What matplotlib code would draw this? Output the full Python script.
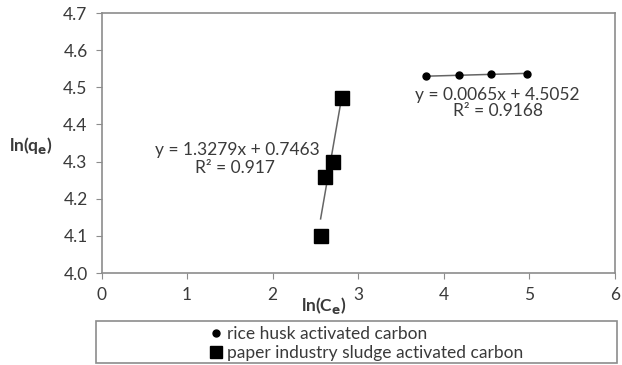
import matplotlib
matplotlib.use("Agg")
import matplotlib.pyplot as plt
from matplotlib.lines import Line2D
from matplotlib.patches import Rectangle
import numpy as np

plt.rcParams['font.family'] = ['Lato', 'DejaVu Sans']
plt.rcParams['mathtext.default'] = 'bf'

# ln(Ce) vs ln(qe) data
rice_x = [3.79, 4.18, 4.55, 4.97]
rice_y = [4.530, 4.533, 4.535, 4.537]
sludge_x = [2.56, 2.61, 2.70, 2.81]
sludge_y = [4.10, 4.258, 4.30, 4.471]

# Linear fit coefficients (slope, intercept) and R^2
rice_fit = (0.0065, 4.5052, 0.9168)
sludge_fit = (1.3279, 0.7463, 0.917)

labels = ["rice husk activated carbon", "paper industry sludge activated carbon"]
xticks = [0, 1, 2, 3, 4, 5, 6]
yticks = [4.0, 4.1, 4.2, 4.3, 4.4, 4.5, 4.6, 4.7]

W, H = 622, 365
fig = plt.figure(figsize=(W / 100, H / 100), dpi=100)
ax = fig.add_axes([101.5 / W, (H - 273) / H, (615 - 101.5) / W, (273 - 13) / H])

frame_col = "#8c8c8c"
text_col = "#3a3a3a"
line_col = "#656565"
fs = 12.5

# trend lines over each series' range
for xs, (m, b, _) in ((rice_x, rice_fit), (sludge_x, sludge_fit)):
    xx = np.array([min(xs), max(xs)])
    ax.plot(xx, m * xx + b, color=line_col, lw=1.1, zorder=2)

ax.plot(rice_x, rice_y, ls="none", marker="o", ms=5, color="black", zorder=3)
ax.plot(sludge_x, sludge_y, ls="none", marker="s", ms=10, color="black", zorder=3)

ax.set_xlim(0, 6)
ax.set_ylim(4.0, 4.7)
ax.set_xticks(xticks)
ax.set_yticks(yticks)
ax.set_xticklabels([str(t) for t in xticks])
ax.set_yticklabels([f"{t:.1f}" for t in yticks])
for s in ax.spines.values():
    s.set_color(frame_col)
    s.set_linewidth(1.2)
ax.tick_params(axis="both", direction="out", color=frame_col, length=4,
               labelsize=fs, labelcolor=text_col)
ax.tick_params(axis="x", pad=6)
ax.tick_params(axis="y", pad=6)

# regression equations
ax.text(1.59, 4.331, f"y = {sludge_fit[0]:.4f}x + {sludge_fit[1]:.4f}",
        ha="center", va="center", fontsize=fs, color=text_col)
ax.text(1.56, 4.282, f"R² = {sludge_fit[2]}", ha="center", va="center",
        fontsize=fs, color=text_col)
ax.text(4.62, 4.479, f"y = {rice_fit[0]:.4f}x + {rice_fit[1]:.4f}",
        ha="center", va="center", fontsize=fs, color=text_col)
ax.text(4.63, 4.436, f"R² = {rice_fit[2]}", ha="center", va="center",
        fontsize=fs, color=text_col)

# axis titles
fig.text(9 / W, 1 - 145 / H, "ln(q$_e$)", ha="left", va="center",
         fontsize=fs, fontweight="bold", color=text_col)
fig.text(324 / W, 1 - 306 / H, "ln(C$_e$)", ha="center", va="center",
         fontsize=fs, fontweight="bold", color=text_col)

# legend box below the plot
fig.patches.append(Rectangle((96 / W, 1 - 363 / H), (617 - 96) / W, (363 - 321) / H,
                             transform=fig.transFigure, fill=False,
                             edgecolor=frame_col, lw=1.2))
handles = [Line2D([], [], ls="none", marker="o", ms=5, color="black"),
           Line2D([], [], ls="none", marker="s", ms=8, color="black")]
fig.legend(handles, labels, loc="upper left", bbox_to_anchor=(200 / W, 1 - 316 / H),
           frameon=False, fontsize=fs, handlelength=0.6, handletextpad=0.35,
           labelspacing=0.15, borderpad=0.1, labelcolor=text_col)

fig.savefig("out.png", dpi=100)
